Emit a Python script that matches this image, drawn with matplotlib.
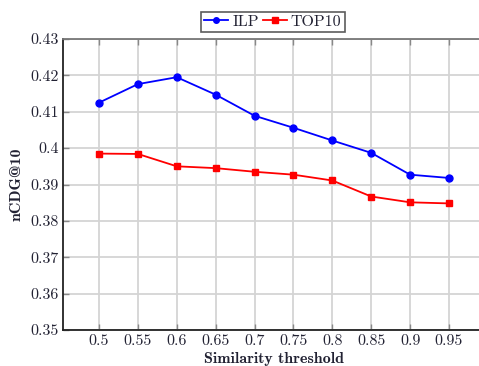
import matplotlib
matplotlib.use("Agg")
import matplotlib.pyplot as plt

# data
thresholds = [0.5, 0.55, 0.6, 0.65, 0.7, 0.75, 0.8, 0.85, 0.9, 0.95]
ilp = [0.4125, 0.4176, 0.4195, 0.4147, 0.4089, 0.4056, 0.4021, 0.3987, 0.3927, 0.3918]
top10 = [0.3985, 0.3984, 0.3950, 0.3945, 0.3935, 0.3927, 0.3911, 0.3867, 0.3851, 0.3848]
x_ticks = thresholds
x_tick_labels = ["0.5", "0.55", "0.6", "0.65", "0.7", "0.75", "0.8", "0.85", "0.9", "0.95"]
y_ticks = [0.35, 0.36, 0.37, 0.38, 0.39, 0.40, 0.41, 0.42, 0.43]
y_tick_labels = ["0.35", "0.36", "0.37", "0.38", "0.39", "0.4", "0.41", "0.42", "0.43"]

plt.rcParams["font.family"] = ["cmr10", "DejaVu Serif"]
plt.rcParams["axes.unicode_minus"] = False

fig = plt.figure(figsize=(4.79, 3.66), dpi=100)
# the axes run past the right border, like the cropped original
ax = fig.add_axes([0.1315, 0.0984, 0.881, 0.795])

ax.plot(thresholds, ilp, color="#0000ff", marker="o", markersize=5,
        linewidth=1.3, label="ILP", zorder=3)
ax.plot(thresholds, top10, color="#ff0000", marker="s", markersize=5,
        linewidth=1.3, label="TOP10", zorder=3)

ax.set_xlim(0.4537, 0.9963)
ax.set_ylim(0.35, 0.43)
ax.set_xticks(x_ticks)
ax.set_xticklabels(x_tick_labels)
ax.set_yticks(y_ticks)
ax.set_yticklabels(y_tick_labels)
ax.tick_params(direction="in", top=True, right=True, length=4, width=1,
               color="#888888", labelsize=11.5, labelcolor="#222233", pad=3)

ax.grid(True, color="#d4d4d4", linewidth=1.3)
ax.set_axisbelow(True)

for side in ["left", "bottom"]:
    ax.spines[side].set_color("#222222")
    ax.spines[side].set_linewidth(1.3)
ax.spines["top"].set_color("#777777")
ax.spines["top"].set_linewidth(1.3)

ax.set_xlabel("Similarity threshold", family=["cmb10", "DejaVu Serif"],
              fontsize=11.5, color="#222233", labelpad=3)
ax.set_ylabel("nCDG@10", family=["cmb10", "DejaVu Serif"],
              fontsize=11.5, color="#222233", labelpad=5)

leg = fig.legend(loc="center", bbox_to_anchor=(273 / 479, 1 - 22 / 366), ncol=2,
                 frameon=True, fancybox=False, fontsize=11.5, handlelength=1.5,
                 handletextpad=0.25, columnspacing=0.25, borderpad=0.2,
                 borderaxespad=0, markerscale=0.8)
leg.get_frame().set_edgecolor("#333333")
leg.get_frame().set_linewidth(1.2)
for t in leg.get_texts():
    t.set_color("#222233")

fig.savefig("out.png", dpi=100)
